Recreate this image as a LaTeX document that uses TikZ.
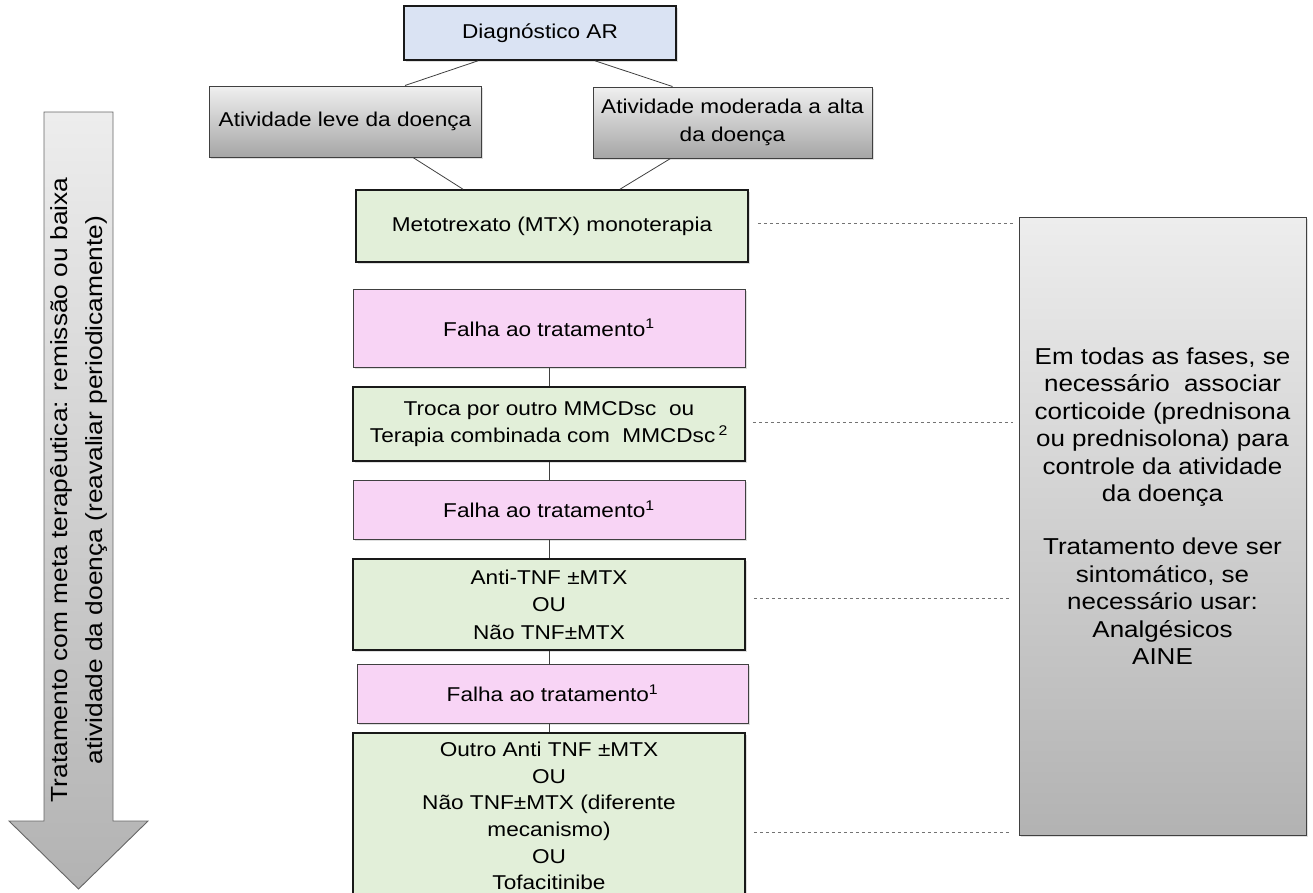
\documentclass[tikz,border=0pt]{standalone}
\usepackage{fontspec}
\setmainfont{Liberation Sans}[FakeStretch=1.13]
\usetikzlibrary{shadows}

\definecolor{bluefill}{HTML}{DAE3F3}
\definecolor{greenfill}{HTML}{E2EFD9}
\definecolor{pinkfill}{HTML}{F8D4F5}
\definecolor{framegray}{HTML}{404040}

\tikzset{
  box/.style={rectangle, inner sep=0pt, align=center,
    font=\fontsize{20}{27.5}\selectfont,
    drop shadow={shadow xshift=1.5pt, shadow yshift=-1.5pt, opacity=0.25}},
  bluebox/.style={box, draw=black!90, line width=1.6pt, fill=bluefill},
  greenbox/.style={box, draw=black!90, line width=1.6pt, fill=greenfill},
  pinkbox/.style={box, draw=framegray, line width=1pt, fill=pinkfill},
  graybox/.style={box, draw=framegray, line width=1pt,
    top color=black!6, bottom color=black!35},
  link/.style={draw=framegray, line width=0.8pt},
  dashline/.style={draw=black!55, line width=0.9pt, dash pattern=on 3.5pt off 2.5pt}
}

\begin{document}
\begin{tikzpicture}[x=1pt, y=-1pt]
  \useasboundingbox (0,0) rectangle (1313,892);
  \clip (0,0) rectangle (1313,892);

  % left arrow
  \draw[draw=black!60, line width=0.9pt, top color=black!7, bottom color=black!30]
    (44,112) -- (113,112) -- (113,821) -- (148,821) -- (78.5,889)
    -- (9,821) -- (44,821) -- cycle;
  \node[rotate=90, align=center, font=\fontsize{23.3}{35}\selectfont] (goal) at (78.5,490)
    {Tratamento com meta terapêutica: remissão ou baixa\\
     atividade da doença (reavaliar  periodicamente)};

  % flow
  \node[bluebox, minimum width=272pt, minimum height=54pt] (diag) at (540,33) {Diagnóstico AR};
  \node[graybox, minimum width=272pt, minimum height=71pt] (mild) at (345,121.5) {Atividade leve da doença};
  \node[graybox, minimum width=279pt, minimum height=71pt] (high) at (732.5,122.5)
    {Atividade moderada a alta\\da doença};
  \node[greenbox, minimum width=392pt, minimum height=72pt] (mtx) at (552,226)
    {Metotrexato (MTX) monoterapia};
  \node[pinkbox, minimum width=392pt, minimum height=78pt] (fail1) at (549,328)
    {Falha ao tratamento\textsuperscript{1}};
  \node[greenbox, minimum width=392pt, minimum height=74pt] (swap) at (549,424)
    {Troca por outro MMCDsc\ \ ou\\Terapia combinada com\ \ MMCDsc\,\textsuperscript{2}};
  \node[pinkbox, minimum width=392pt, minimum height=59pt] (fail2) at (549,509.5)
    {Falha ao tratamento\textsuperscript{1}};
  \node[greenbox, minimum width=392pt, minimum height=91pt] (anti) at (549,604.5)
    {Anti-TNF ±MTX\\OU\\Não TNF±MTX};
  \node[pinkbox, minimum width=391pt, minimum height=59pt] (fail3) at (552.5,693.5)
    {Falha ao tratamento\textsuperscript{1}};
  \node[greenbox, minimum width=392pt, minimum height=166pt,
    font=\fontsize{20}{26.6}\selectfont] (other) at (549,816)
    {Outro Anti TNF ±MTX\\OU\\Não TNF±MTX (diferente\\mecanismo)\\OU\\Tofacitinibe};

  % side note
  \node[graybox, minimum width=287pt, minimum height=618pt,
    top color=black!7, bottom color=black!30] (side) at (1162.5,526) {};
  \node[align=center, font=\fontsize{23}{27.5}\selectfont] (note) at ([yshift=20pt]side.center)
    {Em todas as fases, se\\necessário\ \ associar\\corticoide (prednisona\\ou prednisolona) para\\
     controle da atividade\\da doença\\[25.5pt]Tratamento deve ser\\sintomático, se\\
     necessário usar:\\Analgésicos\\AINE};

  % links
  \draw[link] ([xshift=-62pt]diag.south) -- ([xshift=60pt]mild.north);
  \draw[link] ([xshift=55pt]diag.south) -- ([xshift=-60pt]high.north);
  \draw[link] ([xshift=68pt]mild.south) -- ([xshift=-89pt]mtx.north);
  \draw[link] ([xshift=-62pt]high.south) -- ([xshift=68pt]mtx.north);
  \draw[link] (fail1.south) -- (swap.north);
  \draw[link] (swap.south) -- (fail2.north);
  \draw[link] (fail2.south) -- (anti.north);
  \draw[link] (anti.south) -- (anti.south |- fail3.north);
  \draw[link] (fail3.south -| other.north) -- (other.north);

  % dashed leaders to the note
  \coordinate (d1) at ([yshift=3pt]mtx.east);
  \coordinate (d2) at ([yshift=2pt]swap.east);
  \coordinate (d3) at ([yshift=6.5pt]anti.east);
  \coordinate (d4) at ([yshift=-16pt]other.east);
  \draw[dashline, shorten <=9pt, shorten >=6pt] (d1) -- (d1 -| side.west);
  \draw[dashline, shorten <=7pt, shorten >=6pt] (d2) -- (d2 -| side.west);
  \draw[dashline, shorten <=8pt, shorten >=10pt] (d3) -- (d3 -| side.west);
  \draw[dashline, shorten <=8pt, shorten >=10pt] (d4) -- (d4 -| side.west);
\end{tikzpicture}
\end{document}
